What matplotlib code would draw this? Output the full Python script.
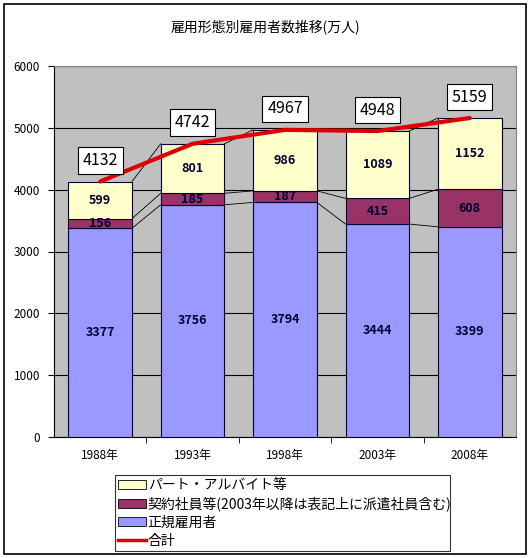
import matplotlib.pyplot as plt
from matplotlib.patches import Rectangle, Patch
from matplotlib.lines import Line2D

plt.rcParams['font.family'] = ['Noto Sans CJK JP', 'DejaVu Sans']

years = ['1988年', '1993年', '1998年', '2003年', '2008年']
regular = [3377, 3756, 3794, 3444, 3399]
contract = [156, 185, 187, 415, 608]
parttime = [599, 801, 986, 1089, 1152]
total = [4132, 4742, 4967, 4948, 5159]

names = ['パート・アルバイト等', '契約社員等(2003年以降は表記上に派遣社員含む)', '正規雇用者', '合計']
colors = ['#ffffcc', '#993366', '#9999ff']

fig = plt.figure(figsize=(5.30, 5.58), dpi=100)
fig.patches.append(Rectangle((4 / 530, 4 / 558), 522 / 530, 550 / 558, transform=fig.transFigure,
                             fill=False, edgecolor='black', linewidth=1.2))
fig.text(0.5, 0.952, '雇用形態別雇用者数推移(万人)', ha='center', va='center', fontsize=10)

ax = fig.add_axes([54 / 530, 121 / 558, 462 / 530, 371 / 558])
ax.set_facecolor('#c0c0c0')
x = list(range(len(years)))
w = 0.69

b1 = [r + c for r, c in zip(regular, contract)]
ax.bar(x, regular, w, color=colors[2], edgecolor='#000033', linewidth=0.8, zorder=3)
ax.bar(x, contract, w, bottom=regular, color=colors[1], edgecolor='#000033', linewidth=0.8, zorder=3)
ax.bar(x, parttime, w, bottom=b1, color=colors[0], edgecolor='#000033', linewidth=0.8, zorder=3)

# series lines between bars
for tops in (regular, b1, total):
    for i in range(len(x) - 1):
        ax.plot([x[i] + w / 2, x[i + 1] - w / 2], [tops[i], tops[i + 1]], color='black', lw=0.6, zorder=2)

for i in x:
    ax.text(i, regular[i] / 2, str(regular[i]), ha='center', va='center', fontsize=9,
            fontweight='bold', color='#000033', zorder=5)
    ax.text(i, regular[i] + contract[i] / 2, str(contract[i]), ha='center', va='center', fontsize=9,
            fontweight='bold', color='#000033', zorder=5)
    ax.text(i, b1[i] + parttime[i] / 2, str(parttime[i]), ha='center', va='center', fontsize=9,
            fontweight='bold', color='#000033', zorder=5)

ax.plot(x, total, color='#dd0000', lw=3, solid_capstyle='round', zorder=6)
for i in x:
    ax.annotate(str(total[i]), (i, total[i]), xytext=(0, 9), textcoords='offset points',
                ha='center', va='bottom', fontsize=11.5, zorder=7,
                bbox=dict(boxstyle='square,pad=0.3', fc='white', ec='black', lw=0.8))

ax.set_xlim(-0.5, len(years) - 0.5)
ax.set_ylim(0, 6000)
ax.set_yticks(range(0, 6001, 1000))
ax.yaxis.grid(True, color='black', linewidth=0.8, zorder=1)
ax.set_axisbelow(True)
ax.set_xticks(x)
ax.set_xticklabels(years, fontsize=8.5)
ax.set_xticks([i + 0.5 for i in x[:-1]], minor=True)
ax.tick_params(axis='x', which='major', length=0, pad=9)
ax.tick_params(axis='x', which='minor', length=4, direction='out')
ax.tick_params(axis='y', labelsize=8.5, length=4, direction='out', pad=6)
for s in ax.spines.values():
    s.set_color('#808080')
ax.spines['left'].set_color('black')
ax.spines['bottom'].set_color('black')

handles = [Patch(facecolor=colors[0], edgecolor='black', lw=0.6),
           Patch(facecolor=colors[1], edgecolor='black', lw=0.6),
           Patch(facecolor=colors[2], edgecolor='black', lw=0.6),
           Line2D([], [], color='#dd0000', lw=2.5)]
leg = fig.legend(handles, names, loc='lower left', bbox_to_anchor=(115 / 530, 7 / 558, 335 / 530, 76 / 558),
                 mode='expand', fontsize=10, frameon=True, fancybox=False, borderaxespad=0,
                 handlelength=2.0, handleheight=0.6, handletextpad=0.1, labelspacing=0.3, borderpad=0.25)
leg.get_frame().set_edgecolor('black')
leg.get_frame().set_linewidth(0.8)

fig.savefig('out.png', dpi=100)
